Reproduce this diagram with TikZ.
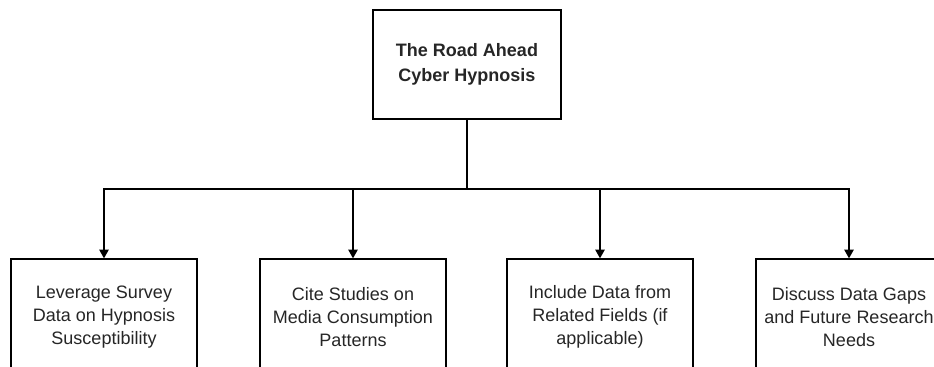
\documentclass[tikz,border=0pt]{standalone}
\usepackage{fontspec}
\setmainfont{Liberation Sans}
\usetikzlibrary{arrows.meta}
\begin{document}
\begin{tikzpicture}[x=0.75pt,y=-0.75pt,
  box/.style={draw=black,line width=1pt,fill=white,align=center,text=black!85,
    font=\fontsize{13.5pt}{17.5pt}\selectfont,inner sep=0pt},
  topbox/.style={box,minimum width=141pt,minimum height=81.75pt,font=\fontsize{13.5pt}{18.5pt}\selectfont\bfseries},
  subbox/.style={box,minimum width=139.5pt,minimum height=87pt},
  conn/.style={draw=black,line width=1pt},
  arr/.style={conn,-{Triangle[length=6.5pt,width=7pt]}}]
\useasboundingbox (0,0) rectangle (934,367);
\clip (0,0) rectangle (934,367);
\fill[white] (0,0) rectangle (934,367);
\node[topbox] (top) at (467,64.5) {The Road Ahead\\Cyber Hypnosis};
\node[subbox] (b1) at (104,317) {Leverage Survey\\Data on Hypnosis\\Susceptibility};
\node[subbox] (b2) at (353,317) {Cite Studies on\\Media Consumption\\Patterns};
\node[subbox] (b3) at (600,317) {Include Data from\\Related Fields (if\\applicable)};
\node[subbox] (b4) at (849,317) {Discuss Data Gaps\\and Future Research\\Needs};
\coordinate (j) at (467,189);
\draw[conn] (top.south) -- (j);
\draw[arr] (j) -| (b1.north);
\draw[arr] (j) -| (b2.north);
\draw[arr] (j) -| (b3.north);
\draw[arr] (j) -| (b4.north);
\end{tikzpicture}
\end{document}
